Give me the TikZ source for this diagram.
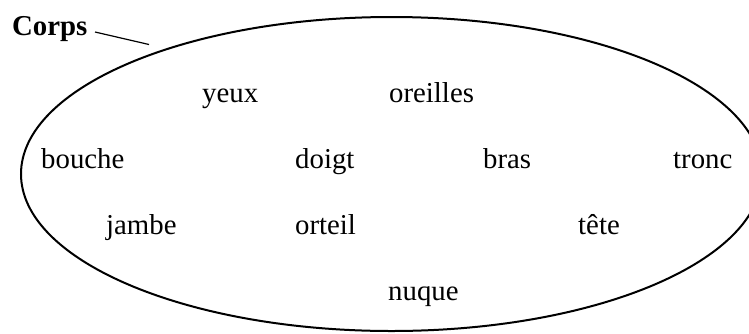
\documentclass[tikz,border=0pt]{standalone}
\usepackage{fontspec}
\setmainfont{Liberation Serif}
\begin{document}
\begin{tikzpicture}[x=1pt,y=-1pt,
  word/.style={anchor=base west,inner sep=0pt,font=\fontsize{28.8}{34}\selectfont},
  title/.style={word,font=\fontsize{28.8}{34}\selectfont\bfseries}]
\useasboundingbox (0,0) rectangle (749,333);
\clip (0,0) rectangle (749,333);
\draw[line width=2pt] (391.5,174) ellipse [x radius=370.5pt, y radius=157pt];
\node[title] (corps) at (12,35) {Corps};
\coordinate (ls) at (95,32);
\coordinate (lead) at (149,44.5);
\draw[line width=1.2pt] (ls) -- (lead);
\node[word] (yeux) at (202,102) {yeux};
\node[word] (oreilles) at (389,102) {oreilles};
\node[word] (bouche) at (41,168) {bouche};
\node[word] (doigt) at (295,168) {doigt};
\node[word] (bras) at (483,168) {bras};
\node[word] (tronc) at (673,168) {tronc};
\node[word] (jambe) at (106,234) {jambe};
\node[word] (orteil) at (295,234) {orteil};
\node[word] (tete) at (578,234) {tête};
\node[word] (nuque) at (388,300) {nuque};
\end{tikzpicture}
\end{document}
